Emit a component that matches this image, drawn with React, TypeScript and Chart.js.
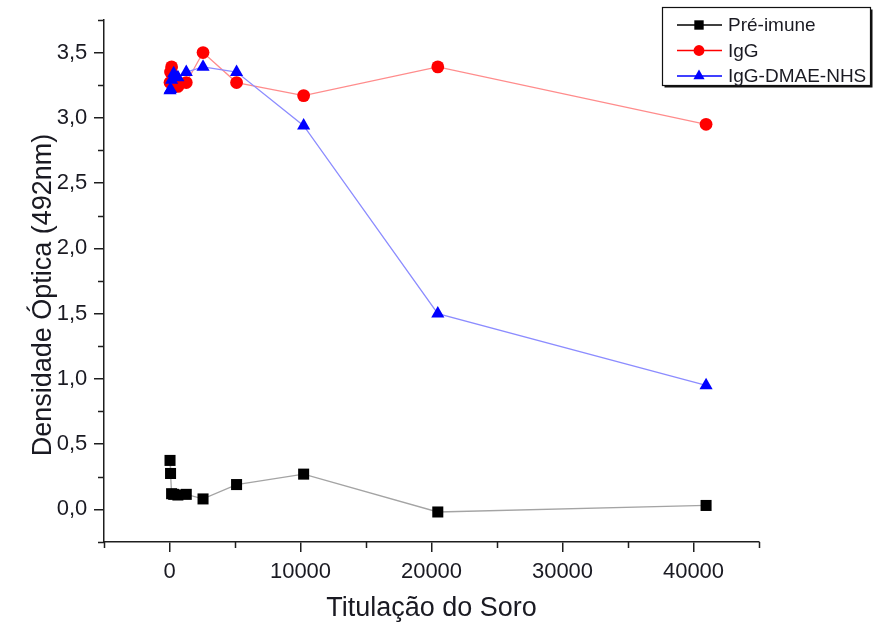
import React, { useEffect, useRef } from 'react';
import { Chart, registerables } from 'chart.js';

Chart.register(...registerables);

// ---------- data ----------
const titers = [40, 80, 160, 320, 640, 1280, 2560, 5120, 10240, 20480, 40960];
const preImune = [0.375, 0.275, 0.12, 0.115, 0.11, 0.115, 0.08, 0.19, 0.27, -0.02, 0.03];
const igG = [3.27, 3.35, 3.39, 3.32, 3.24, 3.27, 3.5, 3.27, 3.17, 3.39, 2.95];
const igGDmae = [3.21, 3.22, 3.29, 3.34, 3.31, 3.35, 3.39, 3.35, 2.94, 1.5, 0.95];

const seriesLabels = ['Pré-imune', 'IgG', 'IgG-DMAE-NHS'];
const xTickValues = [0, 10000, 20000, 30000, 40000];
const xMinorValues = [-5000, 5000, 15000, 25000, 35000, 45000];
const yTickValues = [0, 0.5, 1, 1.5, 2, 2.5, 3, 3.5];
const yMinorValues = [-0.25, 0.25, 0.75, 1.25, 1.75, 2.25, 2.75, 3.25, 3.75];
const xTitle = 'Titulação do Soro';
const yTitle = 'Densidade Óptica (492nm)';

// ---------- styles ----------
const FONT = "'Liberation Sans', Arial, Helvetica, sans-serif";
const AXIS = '#1e1e1e';
const TEXT = '#1a1a22';
const markerColors = ['#000000', '#ff0000', '#0000ff'];
const lineColors = ['#a4a4a4', '#ff8c8c', '#8c8cff'];
const markerStyles = ['rect', 'circle', 'triangle'];
const markerRadii = [7.8, 6.4, 7.6];

function drawMarker(ctx: CanvasRenderingContext2D, style: string, x: number, y: number, r: number) {
  ctx.beginPath();
  if (style === 'rect') {
    const s = Math.SQRT1_2 * r;
    ctx.rect(x - s, y - s, 2 * s, 2 * s);
  } else if (style === 'circle') {
    ctx.arc(x, y, r, 0, Math.PI * 2);
  } else {
    ctx.moveTo(x, y - r);
    ctx.lineTo(x + Math.sin((2 * Math.PI) / 3) * r, y - Math.cos((2 * Math.PI) / 3) * r);
    ctx.lineTo(x + Math.sin((4 * Math.PI) / 3) * r, y - Math.cos((4 * Math.PI) / 3) * r);
    ctx.closePath();
  }
  ctx.fill();
}

const decorPlugin = {
  id: 'decor',
  afterDraw(chart: any) {
    const ctx: CanvasRenderingContext2D = chart.ctx;
    const xs = chart.scales.x;
    const ys = chart.scales.y;
    const area = chart.chartArea;
    ctx.save();
    // minor ticks
    ctx.strokeStyle = AXIS;
    ctx.lineWidth = 1.5;
    ctx.beginPath();
    xMinorValues.forEach((v) => {
      const px = Math.round(xs.getPixelForValue(v)) + 0.5;
      ctx.moveTo(px, area.bottom);
      ctx.lineTo(px, area.bottom + 6);
    });
    yMinorValues.forEach((v) => {
      const py = Math.round(ys.getPixelForValue(v)) + 0.5;
      ctx.moveTo(area.left, py);
      ctx.lineTo(area.left - 6, py);
    });
    ctx.stroke();

    // y-axis title
    ctx.save();
    ctx.translate(44, 295);
    ctx.rotate(-Math.PI / 2);
    ctx.fillStyle = TEXT;
    ctx.font = `27px ${FONT}`;
    ctx.textAlign = 'center';
    ctx.textBaseline = 'middle';
    ctx.fillText(yTitle, 0, 0);
    ctx.restore();

    // legend
    const bx = 662.5, by = 7.5, bw = 208, bh = 78;
    ctx.fillStyle = '#ffffff';
    ctx.fillRect(bx, by, bw, bh);
    ctx.strokeStyle = '#111';
    ctx.lineWidth = 1.2;
    ctx.strokeRect(bx, by, bw, bh);
    ctx.lineWidth = 1.6;
    ctx.beginPath();
    ctx.moveTo(bx + bw + 1.2, by + 2);
    ctx.lineTo(bx + bw + 1.2, by + bh + 1.2);
    ctx.lineTo(bx + 2, by + bh + 1.2);
    ctx.stroke();

    const legendOrder = [0, 1, 2];
    legendOrder.forEach((i, row) => {
      const ds = chart.data.datasets[i];
      const y = 25 + row * 25.5;
      ctx.strokeStyle = markerColors[i];
      ctx.lineWidth = 1.3;
      ctx.beginPath();
      ctx.moveTo(677, y);
      ctx.lineTo(722, y);
      ctx.stroke();
      ctx.fillStyle = markerColors[i];
      drawMarker(ctx, markerStyles[i], 699, y, markerRadii[i] * 0.85);
      ctx.fillStyle = TEXT;
      ctx.font = `19px ${FONT}`;
      ctx.textAlign = 'left';
      ctx.textBaseline = 'middle';
      ctx.fillText(ds.label, 728, y + 1);
    });
    ctx.restore();
  },
};

const seriesValues = [preImune, igG, igGDmae];

export default function App() {
  const canvasRef = useRef<HTMLCanvasElement | null>(null);

  useEffect(() => {
    const canvas = canvasRef.current;
    if (!canvas) return;
    const datasets = seriesValues.map((vals, i) => ({
      label: seriesLabels[i],
      data: titers.map((t, k) => ({ x: t, y: vals[k] })),
      borderColor: lineColors[i],
      borderWidth: 1.3,
      backgroundColor: markerColors[i],
      pointStyle: markerStyles[i] as any,
      pointRadius: markerRadii[i],
      pointBackgroundColor: markerColors[i],
      pointBorderColor: markerColors[i],
      pointBorderWidth: 0,
      tension: 0,
      fill: false,
      order: 2 - i,
      clip: false as any,
    }));

    const chart = new Chart(canvas, {
      type: 'line',
      data: { datasets },
      plugins: [decorPlugin],
      options: {
        animation: false,
        responsive: false,
        maintainAspectRatio: false,
        devicePixelRatio: 1,
        layout: { padding: { left: 0, top: 13, right: 114, bottom: 0 } },
        plugins: {
          legend: { display: false },
          tooltip: { enabled: false },
          title: { display: false },
        },
        scales: {
          x: {
            type: 'linear',
            min: -5000,
            max: 45000,
            afterBuildTicks: (scale: any) => {
              scale.ticks = xTickValues.map((v) => ({ value: v }));
            },
            afterFit: (scale: any) => {
              scale.height = 90;
            },
            grid: {
              drawOnChartArea: false,
              drawTicks: true,
              tickLength: 10,
              color: AXIS,
              lineWidth: 1.5,
            },
            border: { display: true, color: AXIS, width: 1.5 },
            ticks: {
              padding: 6.5,
              color: TEXT,
              font: { family: FONT, size: 22 },
              maxRotation: 0,
              autoSkip: false,
              callback: (v: any) => String(v),
            },
            title: {
              display: true,
              text: xTitle,
              color: TEXT,
              font: { family: FONT, size: 27 },
              padding: { top: 0, bottom: 7 },
            },
          },
          y: {
            type: 'linear',
            min: -0.25,
            max: 3.75,
            afterBuildTicks: (scale: any) => {
              scale.ticks = yTickValues.map((v) => ({ value: v }));
            },
            afterFit: (scale: any) => {
              scale.width = 104;
            },
            grid: {
              drawOnChartArea: false,
              drawTicks: true,
              tickLength: 10,
              color: AXIS,
              lineWidth: 1.5,
            },
            border: { display: true, color: AXIS, width: 1.5 },
            ticks: {
              padding: 6.7,
              color: TEXT,
              font: { family: FONT, size: 22 },
              autoSkip: false,
              callback: (v: any) => Number(v).toFixed(1).replace('.', ','),
            },
            title: { display: false },
          },
        },
      },
    } as any);

    return () => {
      chart.destroy();
    };
  }, []);

  return (
    <div
      style={{
        position: 'absolute',
        left: 0,
        top: 0,
        width: 873,
        height: 632,
        background: '#ffffff',
      }}
    >
      <canvas ref={canvasRef} width={873} height={632} style={{ display: 'block' }} />
    </div>
  );
}
